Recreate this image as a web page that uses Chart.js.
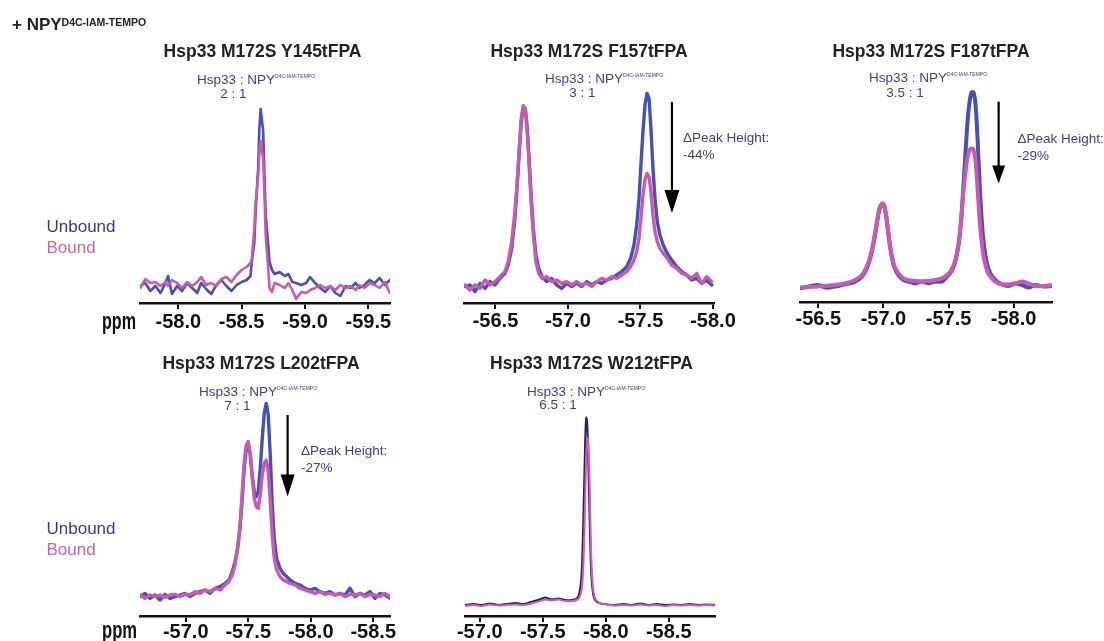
<!DOCTYPE html>
<html><head><meta charset="utf-8">
<script src="https://cdn.jsdelivr.net/npm/chart.js@4.4.0/dist/chart.umd.min.js"></script>
<style>
html,body{margin:0;padding:0;background:#fff;width:1104px;height:641px;overflow:hidden;position:relative}
canvas{position:absolute}
svg{position:absolute;left:0;top:0}
svg text{font-family:"Liberation Sans",Arial,sans-serif}
</style></head><body>
<script>
// ---------- DATA (ppm positions, intensities) ----------
const y145Ppm = [-57.70,-57.74,-57.78,-57.82,-57.86,-57.90,-57.92,-57.95,-57.99,-58.03,-58.07,-58.11,-58.15,-58.18,-58.22,-58.26,-58.30,-58.34,-58.38,-58.42,-58.46,-58.50,-58.54,-58.57,-58.58,-58.60,-58.61,-58.63,-58.64,-58.65,-58.67,-58.68,-58.69,-58.71,-58.72,-58.74,-58.76,-58.80,-58.84,-58.87,-58.90,-58.93,-58.97,-59.01,-59.04,-59.08,-59.12,-59.16,-59.20,-59.24,-59.28,-59.32,-59.36,-59.40,-59.43,-59.47,-59.51,-59.55,-59.59,-59.63,-59.67];
const y145Unbound = [8.5,10,6,8.5,5,10,13.5,4.5,8.5,6, 10,7.5,5,10,7,4.5,9,11.5,8.5,6, 9,10.5,11.5,13.5,20.5,30,45,67,87,97, 86,64,44,29,20.5,16.5,14.5,15.5,13.5,14.5, 10.5,10,9,10,13,10,7.5,5.5,8.5,5, 3.5,8.5,7.5,10,7.5,9,11.5,10,12.5,9, 11.5];
const y145Bound = [7.5,12,10,10.5,8.5,10.5,8.5,11.5,10,7.5, 10.5,8.5,10.5,13,9,10,8.5,12,13,10.5, 14,16.5,18,20,22,37,50,63,75,81, 72,54,34,17,7.5,5.5,10,9,7.5,10, 6.5,2,5.5,5,6.5,7.5,9,7.5,8.5,6.5, 9,7.5,8.5,6.5,9,7.5,10,9,7.5,10.5, 5];
const y145Ticks = [-58.0,-58.5,-59.0,-59.5];

const f157Ppm = [-56.290,-56.324,-56.359,-56.393,-56.428,-56.462,-56.497,-56.531,-56.566,-56.588, -56.612,-56.634,-56.650,-56.664,-56.678,-56.692,-56.706,-56.719,-56.733,-56.747, -56.761,-56.779,-56.798,-56.821,-56.853,-56.888,-56.922,-56.957,-56.991,-57.026, -57.060,-57.094,-57.129,-57.163,-57.198,-57.232,-57.267,-57.301,-57.336,-57.370, -57.405,-57.432,-57.455,-57.474,-57.490,-57.503,-57.517,-57.531,-57.545,-57.559, -57.572,-57.586,-57.600,-57.616,-57.634,-57.657,-57.685,-57.715,-57.750,-57.784, -57.819,-57.853,-57.888,-57.922,-57.957,-57.991];
const f157Unbound = [8.2,9,5.7,9.8,7.3,10.7,9,12.3,14.8,19, 27.3,42.3,59,75.7,90.7,98.2,97.3,87.3,70.7,52.3, 37.3,24,17.3,13.2,10.7,12.3,9,7.3,9.8,8.2, 9.8,8.2,10.7,9,10.7,9.8,11.5,12.3,14,15.7, 18.2,22.3,29,39,52.3,69,85.7,99,104.8,102.3, 87.3,67.3,52.3,40.7,34,29,24.8,21.5,18.2,15.7, 14,11.5,12.3,9.8,11.5,9];
const f157Bound = [9,6.5,9,7.3,11.5,9,10.7,13.2,15.7,20.7, 30.7,45.7,60.7,77.3,92.3,98.7,96.5,85.7,67.3,49, 34,20.7,14.8,12.3,13.2,10.7,11.5,9.8,10.7,9, 10.7,9,9.8,8.2,10.7,12.3,11.5,13.2,12.3,14, 15.7,18.2,21.5,25.7,32.3,42.3,54,61.5,64.8,63.2, 55.7,44,35.7,30.7,27.3,24.8,22.3,19,17.3,14.8, 14,12.3,14.8,9.8,13.2,10.7];
const f157Ticks = [-56.5,-57.0,-57.5,-58.0];

const f187Ppm = [-56.359,-56.423,-56.500,-56.552,-56.628,-56.705,-56.782,-56.834,-56.872,-56.905, -56.931,-56.952,-56.969,-56.988,-57.003,-57.018,-57.036,-57.057,-57.082,-57.115, -57.154,-57.192,-57.244,-57.295,-57.346,-57.398,-57.449,-57.488,-57.521,-57.552, -57.577,-57.598,-57.615,-57.631,-57.646,-57.662,-57.677,-57.692,-57.708,-57.723, -57.738,-57.754,-57.772,-57.795,-57.821,-57.859,-57.911,-57.962,-58.013,-58.065, -58.115,-58.167,-58.231,-58.295];
const f187Unbound = [6.8,7.7,8.5,7.2,7.7,8.8,10.2,12.7,16.8,23.5, 31.8,40.2,46,48.8,48.5,44.3,35.2,25.2,17.7,13.5, 11,10.2,9.3,10.2,9.3,10.2,10.2,12.7,15.2,20.2, 28.5,41.8,58.5,75.2,90.2,100.2,104.8,104.8,98.5,81.8, 60.2,41.8,28.5,19.3,14.3,11,8.8,8,9.3,8.5, 7.2,8.5,7.7,8];
const f187Bound = [7.2,7.5,7.7,8,8.5,9.3,11,13.5,17.7,24.3, 32.7,41,46.8,49.3,48.8,44.3,35.2,26,18.5,14.3, 11.8,11,10.5,10.2,10.5,11,11.8,13.5,16,21, 29.3,41.8,55.2,65.2,72.7,76,76.8,76,70.2,56.8, 41.8,30.2,21.8,16,12.7,10.2,8.8,8.8,9.3,10.2, 9.3,8,8,8.5];
const f187Ticks = [-56.5,-57.0,-57.5,-58.0];

const l202Ppm = [-56.634,-56.674,-56.714,-56.754,-56.794,-56.834,-56.874,-56.914,-56.954,-56.994,-57.034,-57.074,-57.114,-57.154,-57.194,-57.234,-57.274,-57.314, -57.346,-57.372,-57.394,-57.415,-57.434,-57.452,-57.468,-57.484,-57.500,-57.516,-57.532,-57.548,-57.564,-57.580,-57.596,-57.612,-57.628,-57.644,-57.660,-57.676,-57.692,-57.708,-57.727,-57.754,-57.780,-57.807,-57.834, -57.874,-57.914,-57.954,-57.994,-58.034,-58.074,-58.114,-58.154,-58.194,-58.234,-58.274,-58.314,-58.354,-58.394,-58.434,-58.474,-58.514,-58.554,-58.594,-58.634];
const l202Unbound = [9.7,11.3,8.8,10.5,8,10.8,8.8,9.7,10.5,11.3,9.7,11.3,12.2,13,11.3,13.8,14.7,16.3, 18,22.2,27.2,33.8,43.8,58.8,73.8,83.8,85.5,80.5,70.5,62.2,59.7,62.2,73.8,88.8,101.3,106.3,100.5,80.5,55.5,38.8,28.8,23.8,21.3,19.7,18, 16.3,15.5,13.8,13,13.8,12.2,11.3,12.2,10.5,11.3,10.5,13.8,9.7,11.3,10.5,12.2,8.8,11.3,10.5,8.8];
const l202Bound = [10.5,8.8,10.5,9.7,10.5,9.2,10.5,10.8,9.7,10.8,10.5,12.2,11.3,13,12.2,13.8,13,15.5, 17.2,20.5,25.5,33.8,45.5,62.2,77.2,85.5,87.2,81.3,68.8,58.8,54.7,53.8,60.5,70.5,76.3,78,72.2,57.2,40.5,28.8,23,19.7,18,17.2,16.3, 15.5,13.8,13,12.2,11.3,12.2,10.8,11.3,10.5,11.3,9.7,10.8,10.5,11.3,9.7,10.8,10.5,9.7,11.3,9.7];
const l202Ticks = [-57.0,-57.5,-58.0,-58.5];

const w212Ppm = [-56.883,-56.949,-57.016,-57.082,-57.148,-57.214,-57.280,-57.346,-57.413,-57.465, -57.518,-57.571,-57.624,-57.677,-57.730,-57.770,-57.790,-57.806,-57.817,-57.828, -57.838,-57.846,-57.854,-57.862,-57.873,-57.883,-57.897,-57.915,-57.955,-58.008, -58.074,-58.140,-58.206,-58.272,-58.338,-58.405,-58.471,-58.537,-58.603,-58.669, -58.735,-58.802,-58.867];
const w212Unbound = [5.5,6,5.5,6.2,5.5,6,6.5,6,7.2,8, 9.3,8.3,8.8,8,8,8.8,11.3,18.8,35.5,63.8, 90.5,99.2,95.5,75.5,45.5,23.8,12.2,8,6.3,5.8, 5.5,6,5.5,6.2,5.5,6,5.5,5.8,5.5,6, 5.5,5.8,5.5];
const w212Bound = [5,5.5,5,5.7,5.2,5.5,5.8,5.5,6.3,7.2, 8.3,7.8,8.2,7.5,7.5,8,9.2,12.2,18.8,35.5, 62.2,80.5,88.8,87.2,63.8,33.8,15.5,8.8,6.3,5.8, 5.2,5.5,5.2,5.7,5.2,5.5,5,5.5,5.2,5.5, 5.2,5.5,5.2];
const w212Ticks = [-57.0,-57.5,-58.0,-58.5];

// arrows: [ppm, from intensity, to intensity]
const f157Arrow = [-57.717, 100.5, 45];
const f187Arrow = [-57.885, 100.2, 59.3];
const l202Arrow = [-57.815, 100.5, 59.7];

// ---------- LAYOUT / STYLE ----------
const PAD = 30, XH = 40, YMAX = 110, PXU = 2;
const panels = [
  {ppm:y145Ppm, u:y145Unbound, b:y145Bound, ticks:y145Ticks, min:-59.671, max:-57.698, left:140, right:390, bottom:303, tickPad:1, lw:2.6, blue:'#4651b6', pink:'#c85ab3', tension:0},
  {ppm:f157Ppm, u:f157Unbound, b:f157Bound, ticks:f157Ticks, min:-58.007, max:-56.283, left:464, right:714, bottom:303, tickPad:0, lw:3.4, blue:'#4651b6', pink:'#c85ab3', tension:0, arrow:f157Arrow, head:[23,7.5]},
  {ppm:f187Ppm, u:f187Unbound, b:f187Bound, ticks:f187Ticks, min:-58.295, max:-56.359, left:800, right:1052, bottom:302, tickPad:-1, lw:4, blue:'#4651b6', pink:'#c85ab3', tension:0.3, arrow:f187Arrow, head:[18,6.5]},
  {ppm:l202Ppm, u:l202Unbound, b:l202Bound, ticks:l202Ticks, min:-58.634, max:-56.634, left:140, right:390, bottom:616, tickPad:-2, lw:3.4, blue:'#4651b6', pink:'#c85ab3', tension:0, arrow:l202Arrow, head:[22,7]},
  {ppm:w212Ppm, u:w212Unbound, b:w212Bound, ticks:w212Ticks, min:-58.867, max:-56.883, left:465, right:715, bottom:616, tickPad:-2, lw:2, blue:'#22235e', pink:'#d05cba', tension:0.2}
];

const arrowPlugin = {
  id: 'peakArrow',
  afterDatasetsDraw(chart, args, o) {
    if (!o || !o.at) return;
    const ctx = chart.ctx, xs = chart.scales.x, ys = chart.scales.y;
    const x = xs.getPixelForValue(o.at[0]);
    const y1 = ys.getPixelForValue(o.at[1]);
    const y2 = ys.getPixelForValue(o.at[2]);
    const hl = o.head[0], hw = o.head[1];
    ctx.save();
    ctx.strokeStyle = '#000'; ctx.fillStyle = '#000'; ctx.lineWidth = 2.2;
    ctx.beginPath(); ctx.moveTo(x, y1); ctx.lineTo(x, y2 - hl + 2); ctx.stroke();
    ctx.beginPath(); ctx.moveTo(x - hw, y2 - hl); ctx.lineTo(x + hw, y2 - hl); ctx.lineTo(x, y2); ctx.closePath(); ctx.fill();
    ctx.restore();
  }
};

const tickFont = {family: "'Liberation Sans',Arial,sans-serif", size: 20, weight: 'bold'};

panels.forEach(p => {
  const cv = document.createElement('canvas');
  const w = (p.right - p.left) + 2 * PAD, h = YMAX * PXU + XH;
  cv.width = w; cv.height = h;
  cv.style.left = (p.left - PAD) + 'px';
  cv.style.top = (p.bottom - YMAX * PXU) + 'px';
  cv.style.width = w + 'px'; cv.style.height = h + 'px';
  document.body.appendChild(cv);
  const pts = arr => p.ppm.map((x, i) => ({x: x, y: arr[i]}));
  new Chart(cv, {
    type: 'line',
    data: {datasets: [
      {label: 'Bound', data: pts(p.b), borderColor: p.pink, borderWidth: p.lw, pointRadius: 0, tension: p.tension, borderJoinStyle: 'round', borderCapStyle: 'round', fill: false},
      {label: 'Unbound', data: pts(p.u), borderColor: p.blue, borderWidth: p.lw, pointRadius: 0, tension: p.tension, borderJoinStyle: 'round', borderCapStyle: 'round', fill: false}
    ]},
    options: {
      responsive: false, animation: false, events: [],
      layout: {padding: {left: PAD, right: PAD, top: 0, bottom: 0}},
      plugins: {legend: {display: false}, tooltip: {enabled: false}, peakArrow: {at: p.arrow, head: p.head}},
      scales: {
        x: {
          type: 'linear', reverse: true, min: p.min, max: p.max,
          afterBuildTicks: s => { s.ticks = p.ticks.map(v => ({value: v})); },
          afterFit: s => { s.height = XH; },
          ticks: {callback: v => Number(v).toFixed(1), font: tickFont, color: '#111', padding: p.tickPad, maxRotation: 0, autoSkip: false},
          grid: {display: true, drawOnChartArea: false, drawTicks: true, tickLength: 6, color: '#111', lineWidth: 2},
          border: {display: true, color: '#111', width: 2.5}
        },
        y: {display: false, min: 0, max: YMAX}
      }
    },
    plugins: [arrowPlugin]
  });
});
</script>
<svg width="1104" height="641" xmlns="http://www.w3.org/2000/svg">
  <text x="12" y="30" font-size="17" font-weight="bold" fill="#222">+ NPY<tspan dy="-4.5" font-size="10.5">D4C-IAM-TEMPO</tspan></text>

  <g font-size="17.5" font-weight="bold" fill="#222" text-anchor="middle">
    <text x="262.5" y="57">Hsp33 M172S Y145tFPA</text>
    <text x="589" y="57">Hsp33 M172S F157tFPA</text>
    <text x="931" y="57">Hsp33 M172S F187tFPA</text>
    <text x="261" y="368.5">Hsp33 M172S L202tFPA</text>
    <text x="591.5" y="368.5">Hsp33 M172S W212tFPA</text>
  </g>

  <g font-size="13.5" fill="#3d3f8a">
    <text x="197" y="84">Hsp33 : NPY<tspan dy="-6" font-size="5">D4C-IAM-TEMPO</tspan></text>
    <text x="233.5" y="97.5" text-anchor="middle">2 : 1</text>
    <text x="545" y="82.5">Hsp33 : NPY<tspan dy="-6" font-size="5">D4C-IAM-TEMPO</tspan></text>
    <text x="582.5" y="97" text-anchor="middle">3 : 1</text>
    <text x="869" y="81.5">Hsp33 : NPY<tspan dy="-6" font-size="5">D4C-IAM-TEMPO</tspan></text>
    <text x="905" y="97" text-anchor="middle">3.5 : 1</text>
    <text x="199" y="395.5">Hsp33 : NPY<tspan dy="-6" font-size="5">D4C-IAM-TEMPO</tspan></text>
    <text x="237.5" y="410" text-anchor="middle">7 : 1</text>
    <text x="527" y="396">Hsp33 : NPY<tspan dy="-6" font-size="5">D4C-IAM-TEMPO</tspan></text>
    <text x="558" y="409" text-anchor="middle">6.5 : 1</text>

    <text x="683" y="142">ΔPeak Height:</text>
    <text x="683" y="159">-44%</text>
    <text x="1017.5" y="142.5">ΔPeak Height:</text>
    <text x="1017.5" y="160">-29%</text>
    <text x="301" y="455">ΔPeak Height:</text>
    <text x="301" y="471.5">-27%</text>
  </g>

  <g font-size="17">
    <text x="46.5" y="231.5" fill="#383a86">Unbound</text>
    <text x="46.5" y="252.5" fill="#c562b6">Bound</text>
    <text x="46.5" y="534" fill="#383a86">Unbound</text>
    <text x="46.5" y="555" fill="#c562b6">Bound</text>
  </g>

  <g font-size="23" font-weight="bold" fill="#111">
    <text x="102" y="328.5" textLength="34" lengthAdjust="spacingAndGlyphs">ppm</text>
    <text x="102" y="638" textLength="35" lengthAdjust="spacingAndGlyphs">ppm</text>
  </g>
</svg>
</body></html>
